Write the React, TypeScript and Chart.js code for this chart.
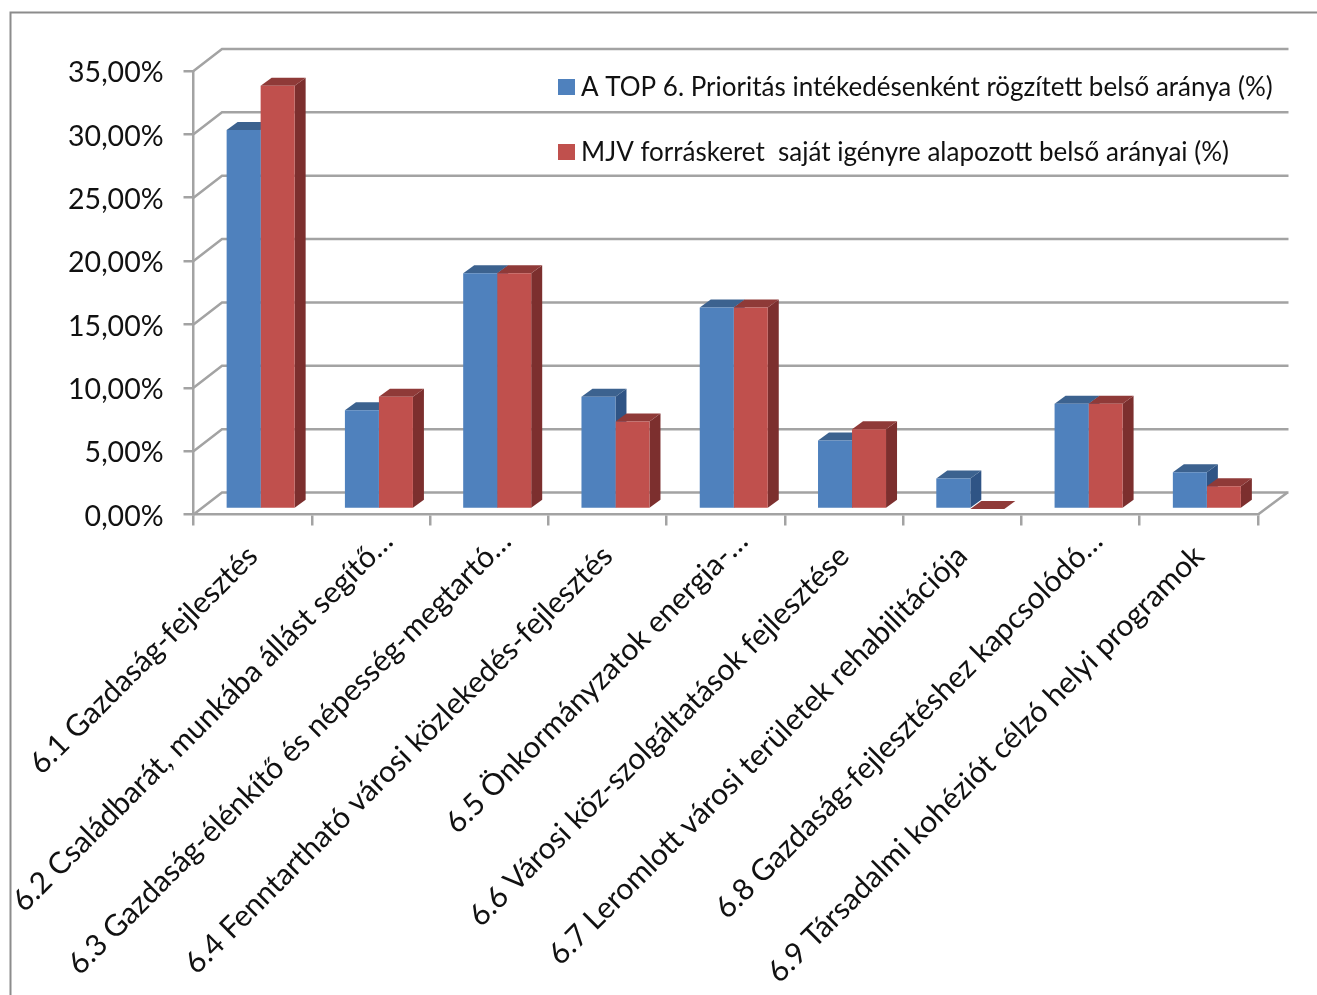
import React, { useEffect, useRef } from "react";
import { Chart, registerables } from "chart.js";

Chart.register(...registerables);

const categories = [
  "6.1 Gazdaság-fejlesztés",
  "6.2 Családbarát, munkába állást segítő…",
  "6.3 Gazdaság-élénkítő és népesség-megtartó…",
  "6.4 Fenntartható városi közlekedés-fejlesztés",
  "6.5 Önkormányzatok energia-…",
  "6.6 Városi köz-szolgáltatások fejlesztése",
  "6.7 Leromlott városi területek rehabilitációja",
  "6.8 Gazdaság-fejlesztéshez kapcsolódó…",
  "6.9 Társadalmi kohéziót célzó helyi programok",
];
const topShare = [29.9, 7.8, 18.6, 8.85, 15.9, 5.4, 2.4, 8.3, 2.9];
const mjvShare = [33.4, 8.85, 18.6, 6.9, 15.9, 6.3, 0, 8.3, 1.8];
const seriesNames = [
  "A TOP 6. Prioritás intékedésenként rögzített belső aránya (%)",
  "MJV forráskeret  saját igényre alapozott belső arányai (%)",
];

const FONT = "Lato, Carlito, 'Open Sans', sans-serif";
const GRID = "#a3a3a3";
const shades = [
  { face: "#4f81bd", top: "#3c628f", side: "#2f5485" },
  { face: "#c0504d", top: "#8f3a38", side: "#7c2f2e" },
];

const threeD = {
  id: "threeD",
  beforeDraw(chart: any) {
    const { ctx, scales } = chart;
    ctx.save();
    ctx.strokeStyle = "#8c8c8c";
    ctx.lineWidth = 2;
    ctx.beginPath();
    ctx.moveTo(10.5, 995);
    ctx.lineTo(10.5, 12.5);
    ctx.lineTo(1317, 12.5);
    ctx.stroke();
    ctx.restore();
    // Truncated labels sit further along their slant in the reference.
    scales.x.getLabelItems().forEach((item: any) => {
      if (String(item.label).endsWith("…") && !item.options.shifted) {
        item.options.translation = [item.options.translation[0] + 17, item.options.translation[1] - 15];
        item.options.shifted = true;
      }
    });
  },
  beforeDatasetsDraw(chart: any) {
    const { ctx, scales, chartArea } = chart;
    const wallDx = 28.5;
    const wallDy = -22;
    const { left, right, bottom } = chartArea;
    ctx.save();
    ctx.strokeStyle = GRID;
    ctx.lineWidth = 2.5;
    ctx.lineJoin = "miter";
    scales.y.ticks.forEach((t: any) => {
      const y = scales.y.getPixelForValue(t.value);
      ctx.beginPath();
      ctx.moveTo(left, y);
      ctx.lineTo(left + wallDx, y + wallDy);
      ctx.lineTo(right + wallDx + 2, y + wallDy);
      ctx.stroke();
    });
    ctx.beginPath();
    ctx.moveTo(right, bottom);
    ctx.lineTo(right + wallDx + 1, bottom + wallDy);
    ctx.stroke();
    ctx.restore();

    ctx.save();
    ctx.translate(8, -5.5);
    const dx = 11;
    const dy = -8;
    [0, 1].forEach((index) => {
      const c = shades[index];
      chart.getDatasetMeta(index).data.forEach((bar: any) => {
        const { x, y, base, width } = bar.getProps(["x", "y", "base", "width"], true);
        const l = x - width / 2;
        const r = x + width / 2;
        ctx.fillStyle = c.side;
        ctx.beginPath();
        ctx.moveTo(r, y);
        ctx.lineTo(r + dx, y + dy);
        ctx.lineTo(r + dx, base + dy);
        ctx.lineTo(r, base);
        ctx.closePath();
        ctx.fill();
        ctx.fillStyle = c.top;
        ctx.beginPath();
        ctx.moveTo(l, y);
        ctx.lineTo(l + dx, y + dy);
        ctx.lineTo(r + dx, y + dy);
        ctx.lineTo(r, y);
        ctx.closePath();
        ctx.fill();
      });
    });
  },
  afterDatasetsDraw(chart: any) {
    const { ctx } = chart;
    ctx.restore();
    ctx.save();
    const rows = [87, 152];
    ctx.font = `26px ${FONT}`;
    ctx.textBaseline = "middle";
    ctx.textAlign = "left";
    chart.data.datasets.forEach((ds: any, i: number) => {
      ctx.fillStyle = shades[i].face;
      ctx.fillRect(558, rows[i] - 8, 17, 16);
      ctx.fillStyle = "#111111";
      ctx.fillText(ds.label, 581, rows[i] + 1);
    });
    ctx.restore();
  },
};

export default function App() {
  const ref = useRef<HTMLCanvasElement>(null);
  useEffect(() => {
    const chart = new Chart(ref.current as HTMLCanvasElement, {
      type: "bar",
      data: {
        labels: categories,
        datasets: [
          { label: seriesNames[0], data: topShare, backgroundColor: shades[0].face, clip: false },
          { label: seriesNames[1], data: mjvShare, backgroundColor: shades[1].face, clip: false },
        ],
      } as any,
      options: {
        responsive: false,
        animation: false,
        devicePixelRatio: 1,
        layout: { padding: { top: 71, right: 59, left: 0, bottom: 0 } },
        datasets: { bar: { categoryPercentage: 0.575, barPercentage: 1, borderWidth: 0 } },
        plugins: { legend: { display: false }, tooltip: { enabled: false } },
        scales: {
          x: {
            offset: true,
            grid: { drawOnChartArea: false, offset: true, color: GRID, lineWidth: 2.5, tickLength: 11 },
            border: { color: GRID, width: 2.5 },
            ticks: {
              autoSkip: false,
              minRotation: 45,
              maxRotation: 45,
              padding: 13,
              color: "#111111",
              font: { family: FONT, size: 30 },
            },
            afterFit(scale: any) {
              scale.paddingLeft = 0;
              scale.paddingRight = 0;
              scale.height = 480.5;
            },
          },
          y: {
            min: 0,
            max: 35,
            grid: { drawOnChartArea: false, color: GRID, lineWidth: 2.5, tickLength: 10 },
            border: { color: GRID, width: 2.5 },
            ticks: {
              stepSize: 5,
              padding: 20,
              labelOffset: 2,
              color: "#111111",
              font: { family: FONT, size: 28.5 },
              callback: (v: any) => Number(v).toFixed(2).replace(".", ",") + "%",
            },
            afterFit(scale: any) {
              scale.width = 193.5;
            },
          },
        },
      },
      plugins: [threeD],
    } as any);
    return () => chart.destroy();
  }, []);
  return (
    <canvas
      ref={ref}
      width={1317}
      height={995}
      style={{ position: "absolute", left: 0, top: 0, display: "block", width: 1317, height: 995 }}
    />
  );
}
